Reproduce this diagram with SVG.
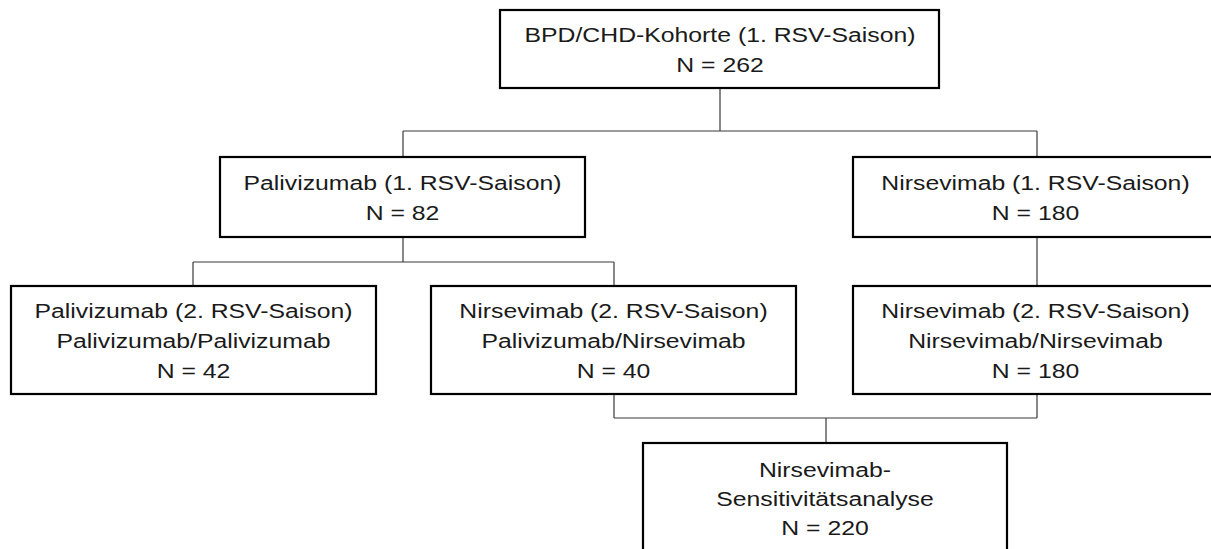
<svg xmlns="http://www.w3.org/2000/svg" width="1211" height="549" viewBox="0 0 1211 549">
<style>
.box{fill:#fff;stroke:#000;stroke-width:2.2}
.t{font-family:"Liberation Sans",Arial,sans-serif;font-size:21px;fill:#1a1a1a;text-anchor:middle}
.c{fill:none;stroke:#3a3a3a;stroke-width:1.2}
</style>
<rect width="1211" height="549" fill="#fff"/>
<g id="connectors">
<path class="c" d="M720 88V131M403 131H1037M403 131V157M1037 131V157"/>
<path class="c" d="M403 237V262M193 262H614M193 262V286M614 262V286"/>
<path class="c" d="M1037 237V286"/>
<path class="c" d="M614 394V418M1037 394V418M614 418H1037M826 418V443"/>
</g>
<g id="n1">
<rect class="box" x="500" y="10" width="439" height="78"/>
<text class="t" transform="translate(720,42) scale(1.18,1)">BPD/CHD-Kohorte (1. RSV-Saison)</text>
<text class="t" transform="translate(720,72) scale(1.18,1)">N = 262</text>
</g>
<g id="n2">
<rect class="box" x="220" y="157" width="365" height="80"/>
<text class="t" transform="translate(402.5,190) scale(1.18,1)">Palivizumab (1. RSV-Saison)</text>
<text class="t" transform="translate(402.5,220) scale(1.18,1)">N = 82</text>
</g>
<g id="n3">
<rect class="box" x="853" y="157" width="365" height="80"/>
<text class="t" transform="translate(1035.5,190) scale(1.18,1)">Nirsevimab (1. RSV-Saison)</text>
<text class="t" transform="translate(1035.5,220) scale(1.18,1)">N = 180</text>
</g>
<g id="n4">
<rect class="box" x="11" y="286" width="365" height="108"/>
<text class="t" transform="translate(193.5,318) scale(1.18,1)">Palivizumab (2. RSV-Saison)</text>
<text class="t" transform="translate(193.5,348) scale(1.18,1)">Palivizumab/Palivizumab</text>
<text class="t" transform="translate(193.5,378) scale(1.18,1)">N = 42</text>
</g>
<g id="n5">
<rect class="box" x="431" y="286" width="365" height="108"/>
<text class="t" transform="translate(613.5,318) scale(1.18,1)">Nirsevimab (2. RSV-Saison)</text>
<text class="t" transform="translate(613.5,348) scale(1.18,1)">Palivizumab/Nirsevimab</text>
<text class="t" transform="translate(613.5,378) scale(1.18,1)">N = 40</text>
</g>
<g id="n6">
<rect class="box" x="853" y="286" width="365" height="108"/>
<text class="t" transform="translate(1035.5,318) scale(1.18,1)">Nirsevimab (2. RSV-Saison)</text>
<text class="t" transform="translate(1035.5,348) scale(1.18,1)">Nirsevimab/Nirsevimab</text>
<text class="t" transform="translate(1035.5,378) scale(1.18,1)">N = 180</text>
</g>
<g id="n7">
<rect class="box" x="643" y="443" width="364" height="120"/>
<text class="t" transform="translate(825,477) scale(1.18,1)">Nirsevimab-</text>
<text class="t" transform="translate(825,506) scale(1.18,1)">Sensitivitätsanalyse</text>
<text class="t" transform="translate(825,535) scale(1.18,1)">N = 220</text>
</g>
</svg>
